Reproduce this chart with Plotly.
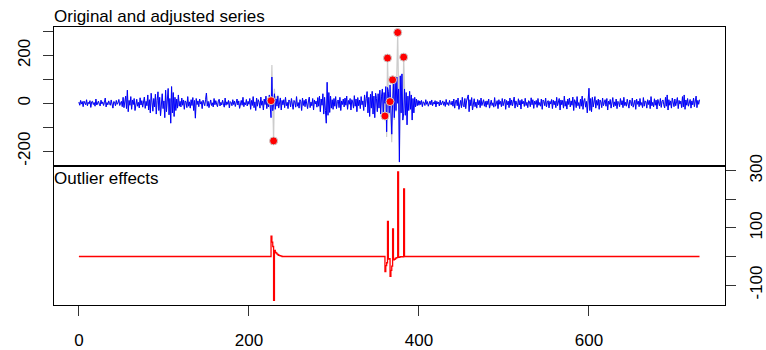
import plotly.graph_objects as go

# Adjusted series (blue), index 0..730
adjusted = [
    # 0-49
    5, -8, 12, -3, 7, -14, 9, 2, -6, 15,
    -10, 4, -2, 11, -17, 6, 8, -5, 3, -12,
    18, -7, 1, 9, -4, -11, 13, -2, 6, -9,
    4, 22, -15, 3, -6, 10, -1, -8, 14, -3,
    -20, 7, 5, -10, 12, -4, 2, 16, -9, 0,
    # 50-79
    8, -14, 25, -18, 6, 30, -22, 55, -35, 12,
    -8, 28, -25, 14, -5, 20, -30, 9, 17, -12,
    4, -19, 23, -7, 11, -16, 3, 26, -21, 8,
    # 80-119
    -10, 35, -28, 15, -40, 42, 5, -33, 20, -15,
    38, -45, 12, 48, -30, 25, -52, 18, 40, -22,
    10, -60, 55, -35, 30, 62, -48, 20, -83, 70,
    -40, 45, -55, 25, -30, 18, -20, 35, -12, 8,
    # 120-149
    -15, 22, -8, 14, -25, 10, 5, -18, 28, -12,
    6, -20, 15, -9, 24, -30, 12, -62, 20, -5,
    10, -14, 18, -3, 7, -22, 13, 4, -10, 16,
    # 150-199
    43, -12, 8, -18, 5, 14, -9, 2, -15, 20,
    -6, 11, -3, -14, 9, 17, -11, 4, -7, 13,
    -2, -16, 22, -8, 6, -4, 12, -19, 7, 3,
    -10, 15, -5, 9, -13, 1, 18, -7, 10, -21,
    5, 12, -8, 25, -14, 3, -6, 16, -11, 8,
    # 200-225
    -4, 20, -25, 12, -9, 28, -18, 6, -30, 22,
    -12, 15, 4, -20, 26, -8, 10, -28, 18, -5,
    30, -22, 9, -15, 35, -18,
    # 226-229
    -60, 110, -31, -3,
    # 230-289
    40, -25, 18, -12, 30, -20, 8, 22, -28, 12,
    -6, 15, -18, 25, -10, 4, -22, 14, 9, -15,
    20, -8, -25, 12, 6, -16, 28, -12, 3, -20,
    15, 7, -30, 22, -9, 12, -14, 18, -5, -22,
    10, 26, -18, 5, -10, 20, -28, 14, -3, 9,
    -16, 24, -12, 30, -35, 18, -8, 40, -45, 25,
    # 290-299
    -30, -83, 88, -50, 45, -38, 30, -20, 15, -25,
    # 300-339
    20, -12, 28, -22, 8, 14, -18, 25, -30, 10,
    -5, 18, -15, 22, -8, 30, -25, 12, -4, 20,
    -28, 15, 6, -20, 32, -12, 18, -35, 24, -10,
    14, -22, 28, -6, 10, -30, 35, -15, 20, 49,
    # 340-349
    -40, 25, -55, 38, -20, 50, -45, 30, -60, 42,
    # 350-399
    20, -35, 40, -20, 55, -45, 30, 60, -60, 45,
    0, 70, -119, 66, 50, -40, 77, -80, -129, 1,
    85, -60, 95, -30, 110, 0, 60, -245, 115, -40,
    123, -70, -44, 60, -50, 45, -90, 30, -30, 50,
    -25, 35, -70, 20, -40, 25, -15, 18, -10, 12,
    # 400-439
    -8, 10, -5, 12, -14, 6, 3, -9, 15, -4,
    7, -12, 2, 9, -6, 14, -10, 4, -3, 11,
    -15, 8, -2, 5, -11, 13, -7, 1, 10, -8,
    6, -13, 16, -5, 3, -9, 12, -2, -6, 9,
    # 440-479
    -12, 18, -20, 8, 14, -10, 22, -25, 6, 12,
    -18, 25, -8, -15, 20, -22, 10, 28, 35, -35,
    15, -10, 24, -28, 8, 19, -14, 5, -20, 16,
    -6, 12, -18, 22, -9, 4, 15, -12, 8, -16,
    # 480-559
    10, -5, 18, -20, 7, 13, -9, 2, -16, 24,
    -12, 6, 11, -22, 15, -4, 8, -14, 20, -10,
    3, 17, -25, 12, -6, 9, -18, 22, -8, 14,
    -11, 5, 26, -20, 10, -3, -15, 19, -7, 12,
    -24, 16, -2, 8, -13, 21, -9, 4, -18, 11,
    6, -14, 23, -6, 15, -21, 9, -4, 12, -17,
    20, -8, 3, -12, 18, -25, 14, 7, -10, 22,
    -15, 5, 11, -19, 8, -3, 16, -22, 13, -6,
    # 560-599
    9, -18, 25, -10, 4, 20, -28, 14, -6, 12,
    -20, 30, -12, 8, -24, 18, -5, 22, -15, 10,
    -8, 26, -30, 15, 6, -18, 28, -10, 3, -22,
    17, -12, 30, -25, 10, 20, -16, 8, -40, 35,
    # 600-649
    63, -30, 20, -35, 25, -15, 10, 28, -20, 12,
    -8, 18, -25, 14, 5, -18, 22, -10, 3, 15,
    -12, 20, -28, 9, -4, 16, -20, 12, 24, -15,
    6, -10, 18, -22, 8, 3, -14, 20, -6, 11,
    -18, 25, -9, 4, -12, 17, -3, -20, 14, 7,
    # 650-699
    -10, 22, -16, 8, 13, -25, 18, -4, 9, -14,
    20, -8, 3, -18, 24, -12, 10, 6, -20, 15,
    -5, 12, -22, 28, -10, 4, -15, 19, -8, 13,
    -24, 16, 2, -11, 20, -17, 8, 14, -6, -19,
    25, -12, 35, -28, 15, -8, 10, -20, 22, -5,
    # 700-730
    -14, 18, -10, 6, 24, -22, 12, -3, 9, -18,
    28, -15, 35, -25, 14, -8, 20, -12, 4, 16,
    -20, 10, -6, 22, -14, 8, 30, -18, 12, -4, 15,
]

# Outlier effects (red, bottom panel): non-zero entries only
effect_times = [226, 227, 228, 229, 230, 231, 232, 233, 234, 235, 236, 237, 238,
                360, 361, 362, 363, 364, 365, 366, 367, 368, 369, 370, 371, 372,
                373, 374, 375, 376, 377, 378, 379, 380, 381, 382]
effect_values = [71, 50, 35, -154, 21, 14, 12, 8, 6, 4, 3, 2, 1,
                 -53, -32, -22, 123, -9, -8, -70, -49, -34, 97, -12, -10, -7,
                 -5, -4, 296, -3, -2, -1, -1, -1, -1, 237]

# Outlier times marked with red points
outlier_times = [226, 229, 360, 363, 366, 369, 375, 382]

x_ticks = [0, 200, 400, 600]
y_ticks = [-200, -100, 0, 100, 200, 300]
y_labels = ["-200", "", "0", "", "200", ""]
eff_ticks = [-100, 0, 100, 200, 300]
eff_labels = ["-100", "", "100", "", "300"]

n = len(adjusted)
time = list(range(n))
effects = [0.0] * n
for t, v in zip(effect_times, effect_values):
    effects[t] = v
original = [a + e for a, e in zip(adjusted, effects)]
pts_y = [original[t] for t in outlier_times]

FONT = "Liberation Sans, Arial, sans-serif"
fig = go.Figure()

# top panel
fig.add_trace(go.Scatter(x=time, y=original, mode="lines",
                         line=dict(color="#CCCCCC", width=1.2),
                         xaxis="x2", yaxis="y2", hoverinfo="skip"))
fig.add_trace(go.Scatter(x=time, y=adjusted, mode="lines",
                         line=dict(color="#0000FF", width=1),
                         xaxis="x2", yaxis="y2"))
fig.add_trace(go.Scatter(x=outlier_times, y=pts_y, mode="markers",
                         marker=dict(size=8, color="#FF0000",
                                     line=dict(color="#CCCCCC", width=1)),
                         xaxis="x2", yaxis="y2"))
# bottom panel
fig.add_trace(go.Scatter(x=time, y=effects, mode="lines",
                         line=dict(color="#FF0000", width=1.3, shape="hv"),
                         xaxis="x", yaxis="y"))

axis_common = dict(showgrid=False, zeroline=False, showline=True, mirror=True,
                   linecolor="#000000", linewidth=1, ticks="outside",
                   ticklen=10, tickwidth=1, tickcolor="#333333", automargin=False,
                   tickfont=dict(family=FONT, size=17, color="#000000"))

fig.update_layout(
    width=766, height=350,
    margin=dict(l=54, r=41, t=27, b=45),
    paper_bgcolor="white", plot_bgcolor="white",
    showlegend=False,
    xaxis=dict(domain=[0, 1], anchor="y", range=[-29.3, 760],
               tickmode="array", tickvals=x_ticks,
               ticktext=[str(v) for v in x_ticks], ticklabelstandoff=10,
               **axis_common),
    xaxis2=dict(domain=[0, 1], anchor="y2", range=[-29.3, 760],
                matches="x", showticklabels=False, **{k: v for k, v in axis_common.items() if k not in ("ticks",)},
                ticks=""),
    yaxis=dict(domain=[0, 0.5], anchor="x", side="right", range=[-170, 317],
               tickmode="array", tickvals=eff_ticks, ticktext=eff_labels,
               tickangle=-90, ticklabelstandoff=6, **axis_common),
    yaxis2=dict(domain=[0.5, 1], anchor="x2", range=[-262, 319],
                tickmode="array", tickvals=y_ticks, ticktext=y_labels,
                tickangle=-90, ticklabelstandoff=6, **axis_common),
    annotations=[
        dict(text="Original and adjusted series", xref="paper", yref="paper",
             x=0, y=1, xanchor="left", yanchor="bottom", showarrow=False,
             xshift=-2, yshift=-1,
             font=dict(family=FONT, size=17, color="#000000")),
        dict(text="Outlier effects", xref="paper", yref="paper",
             x=0, y=0.5, xanchor="left", yanchor="top", showarrow=False,
             xshift=-2, yshift=-1,
             font=dict(family=FONT, size=17, color="#000000")),
    ],
)

fig.write_html("out.html")
